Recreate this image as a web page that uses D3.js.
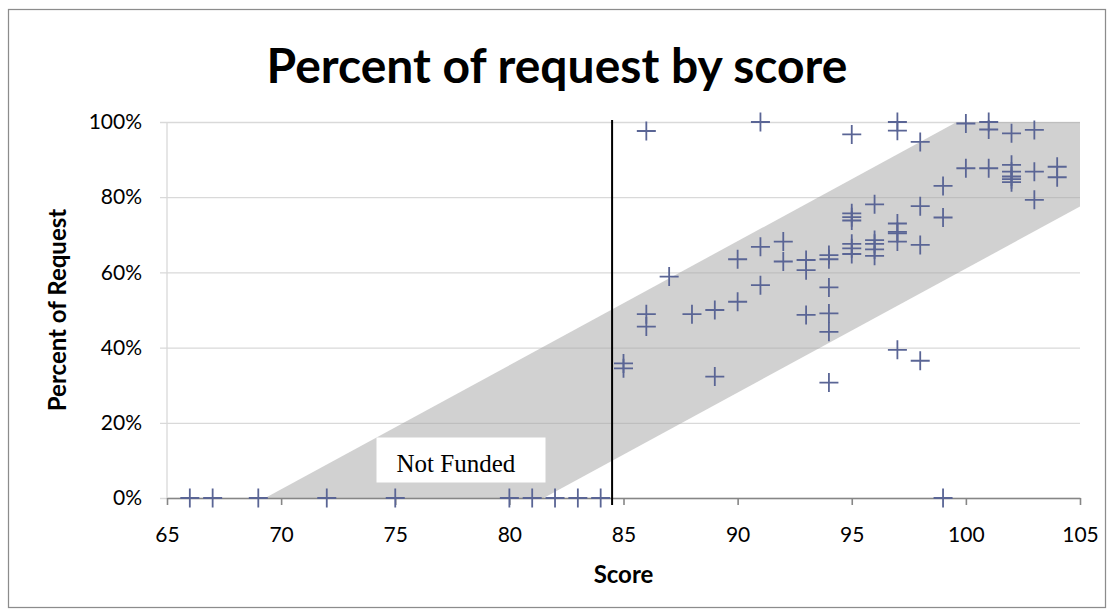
<!DOCTYPE html>
<html>
<head>
<meta charset="utf-8">
<script src="https://cdn.jsdelivr.net/npm/d3@7"></script>
<style>
  html, body { margin: 0; padding: 0; background: #fff; }
  svg { display: block; }
</style>
</head>
<body>
<svg id="chart" width="1115" height="616"></svg>
<script>
// ---- data ----
const title = "Percent of request by score";
const xLabel = "Score";
const yLabel = "Percent of Request";
const xTicks = [65, 70, 75, 80, 85, 90, 95, 100, 105];
const yTicks = [0, 0.2, 0.4, 0.6, 0.8, 1.0];
const scores = [
  66, 67, 69, 72, 75, 80, 81, 82, 83, 84,
  85, 85,
  86, 86, 86,
  87, 88,
  89, 89,
  90, 90,
  91, 91, 91,
  92, 92,
  93, 93, 93,
  94, 94, 94, 94, 94, 94,
  95, 95, 95, 95, 95, 95, 95,
  96, 96, 96, 96, 96,
  97, 97, 97, 97, 97, 97, 97,
  98, 98, 98, 98,
  99, 99, 99,
  100, 100,
  101, 101, 101,
  102, 102, 102, 102, 102, 102,
  103, 103, 103,
  104, 104
];
const percents = [
  0, 0, 0, 0, 0, 0, 0, 0, 0, 0,
  0.358, 0.345,
  0.976, 0.489, 0.456,
  0.589, 0.489,
  0.500, 0.323,
  0.635, 0.522,
  1.000, 0.668, 0.566,
  0.682, 0.629,
  0.633, 0.606, 0.487,
  0.646, 0.635, 0.560, 0.491, 0.442, 0.307,
  0.967, 0.757, 0.747, 0.738, 0.676, 0.664, 0.649,
  0.781, 0.686, 0.676, 0.661, 0.644,
  1.000, 0.977, 0.730, 0.708, 0.704, 0.682, 0.394,
  0.947, 0.776, 0.673, 0.365,
  0.830, 0.746, 0,
  0.996, 0.877,
  1.000, 0.980, 0.877,
  0.970, 0.886, 0.868, 0.855, 0.848, 0.840,
  0.979, 0.868, 0.793,
  0.881, 0.853
];
// funding band (upper edge and lower edge of the shaded region)
const bandUpper = [[69.3, 0], [99.6, 1.0], [105, 1.0]];
const bandLower = [[81.5, 0], [105, 0.775]];
const cutoffScore = 84.5;
const noteText = "Not Funded";

// ---- layout ----
const svg = d3.select("#chart");
const plot = { left: 167, right: 1080, top: 122, bottom: 498 };
const x = d3.scaleLinear().domain([65, 105]).range([plot.left, plot.right]);
const y = d3.scaleLinear().domain([0, 1]).range([plot.bottom, plot.top]);
const sans = "Lato, 'Open Sans', sans-serif";

// chart border
svg.append("rect")
  .attr("x", 8.5).attr("y", 9.5).attr("width", 1097).attr("height", 598)
  .attr("fill", "#fff").attr("stroke", "#8c8c8c").attr("stroke-width", 1.25);

// title
svg.append("text")
  .attr("x", 557).attr("y", 83)
  .attr("text-anchor", "middle")
  .attr("font-family", sans).attr("font-weight", "bold").attr("font-size", 48)
  .attr("fill", "#000").text(title);

// gridlines + y axis
const yAxis = d3.axisLeft(y).tickValues(yTicks).tickFormat(d3.format(".0%"))
  .tickSize(0).tickPadding(0);
const gy = svg.append("g").attr("transform", `translate(${plot.left},0)`).call(yAxis);
gy.select(".domain").remove();
gy.selectAll(".tick line").attr("stroke", "#d9d9d9").attr("stroke-width", 1.3)
  .attr("x1", -7).attr("x2", plot.right - plot.left);
gy.selectAll(".tick text").attr("font-family", sans).attr("font-size", 21).attr("fill", "#000")
  .attr("x", -25).attr("text-anchor", "end");
// vertical y-axis line
svg.append("line")
  .attr("x1", plot.left).attr("x2", plot.left)
  .attr("y1", plot.top).attr("y2", plot.bottom)
  .attr("stroke", "#d9d9d9").attr("stroke-width", 1.3);

// band
const bandPoly = bandUpper.concat(bandLower.slice().reverse());
svg.append("path")
  .attr("d", d3.line().x(d => x(d[0])).y(d => y(d[1]))(bandPoly) + "Z")
  .attr("fill", "#a3a3a3").attr("fill-opacity", 0.5);

// x axis
const xAxis = d3.axisBottom(x).tickValues(xTicks).tickSize(7).tickPadding(22).tickSizeOuter(0);
const gx = svg.append("g").attr("transform", `translate(0,${plot.bottom})`).call(xAxis);
gx.select(".domain").attr("stroke", "#868686").attr("stroke-width", 1.6);
gx.selectAll(".tick line").attr("stroke", "#868686").attr("stroke-width", 1.6);
gx.selectAll(".tick text").attr("font-family", sans).attr("font-size", 21).attr("fill", "#000");

// "Not Funded" box
const boxX = 376.5, boxY = 437.5, boxW = 169, boxH = 45;
svg.append("rect").attr("x", boxX).attr("y", boxY).attr("width", boxW).attr("height", boxH)
  .attr("fill", "#fff");
svg.append("text").attr("x", boxX + 20).attr("y", boxY + 34)
  .attr("font-family", "'Liberation Serif', 'DejaVu Serif', serif").attr("font-size", 25)
  .attr("fill", "#000").text(noteText);

// markers
const pts = scores.map((s, i) => ({ s, p: percents[i] }));
svg.append("g").selectAll("path").data(pts).enter().append("path")
  .attr("transform", d => `translate(${x(d.s)},${y(d.p)})`)
  .attr("d", "M-9.5,0H9.5M0,-9.5V9.5")
  .attr("stroke", "#5a6595").attr("stroke-width", 1.8).attr("fill", "none");

// cutoff line
svg.append("line")
  .attr("x1", x(cutoffScore)).attr("x2", x(cutoffScore))
  .attr("y1", 120).attr("y2", 505)
  .attr("stroke", "#000").attr("stroke-width", 2);

// axis titles
svg.append("text")
  .attr("x", (plot.left + plot.right) / 2).attr("y", 583)
  .attr("text-anchor", "middle")
  .attr("font-family", sans).attr("font-weight", "bold").attr("font-size", 24)
  .text(xLabel);
svg.append("text")
  .attr("transform", `translate(66,${(plot.top + plot.bottom) / 2}) rotate(-90)`)
  .attr("text-anchor", "middle")
  .attr("font-family", sans).attr("font-weight", "bold").attr("font-size", 24)
  .text(yLabel);
</script>
</body>
</html>
